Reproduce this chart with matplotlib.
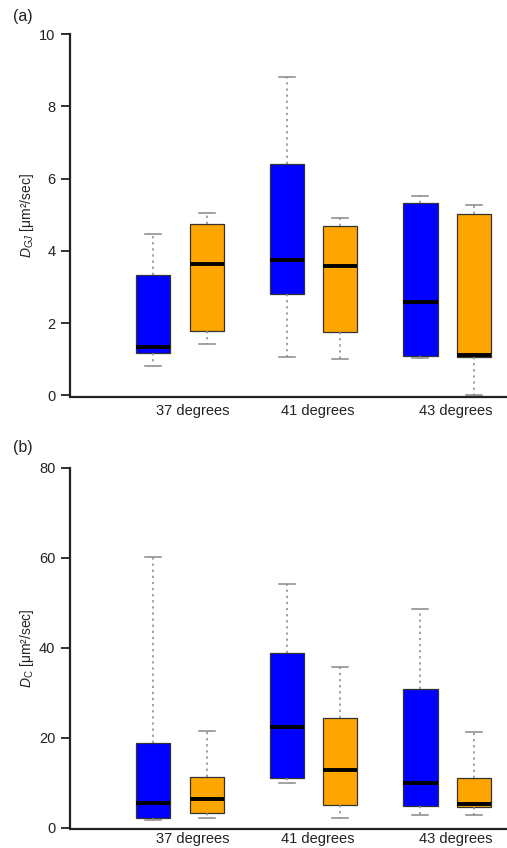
import matplotlib
matplotlib.use("Agg")
import matplotlib.pyplot as plt

plt.rcParams['font.family'] = ['Liberation Sans', 'DejaVu Sans']
plt.rcParams['mathtext.fontset'] = 'custom'
plt.rcParams['mathtext.rm'] = 'Liberation Sans'
plt.rcParams['mathtext.it'] = 'Liberation Sans:italic'

# ---- data ----
categories = ['37 degrees', '41 degrees', '43 degrees']

# panel (a): D_GJ
a_blue_whislo = [0.80, 1.07, 1.03]
a_blue_q1     = [1.17, 2.81, 1.10]
a_blue_med    = [1.34, 3.75, 2.59]
a_blue_q3     = [3.32, 6.40, 5.34]
a_blue_whishi = [4.46, 8.83, 5.51]

a_orange_whislo = [1.43, 1.01, 0.02]
a_orange_q1     = [1.78, 1.74, 1.05]
a_orange_med    = [3.63, 3.58, 1.11]
a_orange_q3     = [4.74, 4.68, 5.02]
a_orange_whishi = [5.04, 4.91, 5.28]

# panel (b): D_C
b_blue_whislo = [1.8, 10.0, 2.8]
b_blue_q1     = [2.1, 11.1, 4.9]
b_blue_med    = [5.6, 22.3, 9.9]
b_blue_q3     = [18.9, 38.9, 30.8]
b_blue_whishi = [60.1, 54.1, 48.7]

b_orange_whislo = [2.3, 2.1, 2.9]
b_orange_q1     = [3.2, 5.0, 4.6]
b_orange_med    = [6.4, 12.8, 5.4]
b_orange_q3     = [11.3, 24.5, 11.1]
b_orange_whishi = [21.6, 35.8, 21.4]

a_ticks = [0, 2, 4, 6, 8, 10]
b_ticks = [0, 20, 40, 60, 80]

BLUE = '#0000FF'
ORANGE = '#FFA500'


def stats(lo, q1, med, q3, hi):
    return [dict(whislo=l, q1=a, med=m, q3=b, whishi=h, fliers=[])
            for l, a, m, b, h in zip(lo, q1, med, q3, hi)]


fig = plt.figure(figsize=(5.07, 8.48), dpi=100)
W, H = 507, 848


def make_axes(top_px, zero_px):
    left = 70 / W
    width = (W - 70) / W
    bottom = 1 - zero_px / H
    height = (zero_px - top_px) / H
    return fig.add_axes([left, bottom, width, height])


group_centers = [1.0, 3.5, 6.0]
label_pos = [1.74, 4.07, 6.66]


def draw_panel(ax, blue, orange, ymax, ticks, ylabel, xpad):
    pos_blue = [c for c in group_centers]
    pos_orange = [c + 1 for c in group_centers]
    for st, pos, col in ((blue, pos_blue, BLUE), (orange, pos_orange, ORANGE)):
        ax.bxp(st, positions=pos, widths=0.64, capwidths=0.3,
               showfliers=False, patch_artist=True,
               boxprops=dict(facecolor=col, edgecolor='#333333', linewidth=0.9),
               medianprops=dict(color='black', linewidth=2.8, solid_capstyle='butt'),
               whiskerprops=dict(color='#888888', linewidth=1.1, linestyle=(0, (1.5, 2.5))),
               capprops=dict(color='#888888', linewidth=1.1))
    ax.set_xlim(-0.56, 7.62)
    ax.set_ylim(-ymax * 0.004, ymax)
    ax.spines['top'].set_visible(False)
    ax.spines['right'].set_visible(False)
    ax.spines['left'].set_bounds(0, ymax)
    ax.spines['left'].set_linewidth(1.6)
    ax.spines['bottom'].set_linewidth(1.6)
    ax.spines['left'].set_color('#222222')
    ax.spines['bottom'].set_color('#222222')
    ax.set_yticks(ticks)
    ax.set_yticklabels([str(t) for t in ticks])
    ax.tick_params(axis='y', length=6.5, width=1.3, color='#222222',
                   labelsize=10.5, labelcolor='#222222', pad=4)
    ax.set_xticks(label_pos)
    ax.set_xticklabels(categories)
    ax.tick_params(axis='x', length=0, labelsize=10.5, labelcolor='#222222', pad=xpad)
    ax.set_ylabel(ylabel, fontsize=10, color='#222222', labelpad=2)
    ax.patch.set_visible(False)


ax1 = make_axes(34.3, 396.7)
draw_panel(ax1,
           stats(a_blue_whislo, a_blue_q1, a_blue_med, a_blue_q3, a_blue_whishi),
           stats(a_orange_whislo, a_orange_q1, a_orange_med, a_orange_q3, a_orange_whishi),
           10, a_ticks, r'$D_{GJ}$ [μm²/sec]', 5)

ax2 = make_axes(467.7, 829.3)
draw_panel(ax2,
           stats(b_blue_whislo, b_blue_q1, b_blue_med, b_blue_q3, b_blue_whishi),
           stats(b_orange_whislo, b_orange_q1, b_orange_med, b_orange_q3, b_orange_whishi),
           80, b_ticks, r'$D_{\mathrm{C}}$ [μm²/sec]', 2)

fig.text(13 / W, 1 - 17 / H, '(a)', fontsize=11.5, va='center', ha='left', color='#222222')
fig.text(13 / W, 1 - 447 / H, '(b)', fontsize=11.5, va='center', ha='left', color='#222222')

fig.savefig('out.png', dpi=100, facecolor='white')
